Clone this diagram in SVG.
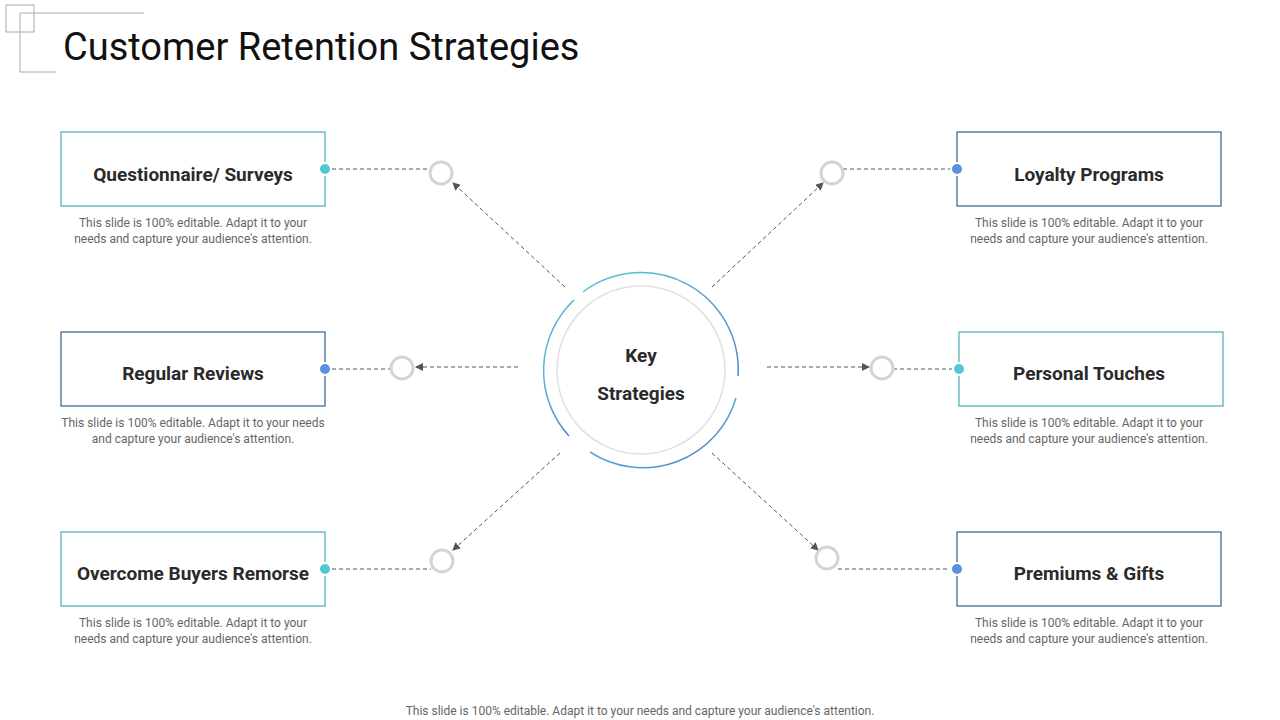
<svg xmlns="http://www.w3.org/2000/svg" width="1280" height="720" viewBox="0 0 1280 720">
<style>
.box{fill:#fff;stroke-width:1.2}
.t{stroke:#46aab3}.b{stroke:#2e5f8c}
.lbl{font-family:Roboto,"Liberation Sans",sans-serif;font-weight:bold;font-size:19px;fill:#2a2a2a;text-anchor:middle}
.d{font-family:Roboto,"Liberation Sans",sans-serif;font-size:12px;fill:#666;text-anchor:middle}
.dash{stroke:#555;stroke-width:1;stroke-dasharray:4 3;fill:none}
.ring{fill:#fff;stroke:#d4d4d4;stroke-width:3}
</style>
<defs>
<marker id="a" markerWidth="8" markerHeight="8" refX="7" refY="4" orient="auto" markerUnits="userSpaceOnUse"><path d="M0,0 L8,4 L0,8 z" fill="#555"/></marker>
<linearGradient id="g" x1="0" y1="0" x2="1" y2="1"><stop offset="0" stop-color="#5bc8d6"/><stop offset="1" stop-color="#4f7fd0"/></linearGradient>
</defs>
<rect width="1280" height="720" fill="#fff"/>
<g id="deco" fill="none" stroke="#aaa" stroke-width="1">
<rect x="6" y="5" width="28" height="27"/>
<path d="M20,13 H144 M20,13 V72 H56"/>
</g>
<text x="63" y="60" font-family="Roboto,'Liberation Sans',sans-serif" font-size="38" fill="#111">Customer Retention Strategies</text>
<g id="connectors">
<path class="dash" d="M290,169 H430"/><path class="dash" d="M290,369 H391"/><path class="dash" d="M318,569 H431"/>
<path class="dash" d="M843,169 H995"/><path class="dash" d="M893,369 H997"/><path class="dash" d="M838,569 H995"/>
<path class="dash" marker-end="url(#a)" d="M565,287 L453,183"/>
<path class="dash" marker-end="url(#a)" d="M518,367 L416,367"/>
<path class="dash" marker-end="url(#a)" d="M560,453 L453,550"/>
<path class="dash" marker-end="url(#a)" d="M712,287 L823,183"/>
<path class="dash" marker-end="url(#a)" d="M767,367 L869,367"/>
<path class="dash" marker-end="url(#a)" d="M712,453 L818,550"/>
</g>
<g id="center">
<circle cx="641" cy="370" r="84" fill="#fff" stroke="#e0e0e0" stroke-width="1.5"/>
<g fill="none" stroke="url(#g)" stroke-width="1.5">
<path d="M583,292 A97,97 0 0 1 738,376"/>
<path d="M736,398 A97,97 0 0 1 590,452"/>
<path d="M569,436 A97,97 0 0 1 574,300"/>
</g>
<text class="lbl" x="641" y="362" font-size="29">Key</text>
<text class="lbl" x="641" y="400" font-size="29">Strategies</text>
</g>
<g id="n1"><rect class="box t" x="61" y="132" width="264" height="74"/><text class="lbl" x="193" y="181">Questionnaire/ Surveys</text><circle cx="325" cy="169" r="6" fill="#4fc9d3" stroke="#fff" stroke-width="2"/><circle class="ring" cx="441" cy="173" r="11"/>
<text class="d" x="193" y="227">This slide is 100% editable. Adapt it to your</text><text class="d" x="193" y="243">needs and capture your audience's attention.</text></g>
<g id="n2"><rect class="box b" x="61" y="332" width="264" height="74"/><text class="lbl" x="193" y="380">Regular Reviews</text><circle cx="325" cy="369" r="6" fill="#5b8fe0" stroke="#fff" stroke-width="2"/><circle class="ring" cx="402" cy="368" r="11"/>
<text class="d" x="193" y="427">This slide is 100% editable. Adapt it to your needs</text><text class="d" x="193" y="443">and capture your audience's attention.</text></g>
<g id="n3"><rect class="box t" x="61" y="532" width="264" height="74"/><text class="lbl" x="193" y="580">Overcome Buyers Remorse</text><circle cx="325" cy="569" r="6" fill="#4fc9d3" stroke="#fff" stroke-width="2"/><circle class="ring" cx="442" cy="561" r="11"/>
<text class="d" x="193" y="627">This slide is 100% editable. Adapt it to your</text><text class="d" x="193" y="643">needs and capture your audience's attention.</text></g>
<g id="n4"><rect class="box b" x="957" y="132" width="264" height="74"/><text class="lbl" x="1089" y="181">Loyalty Programs</text><circle cx="957" cy="169" r="6" fill="#5b8fe0" stroke="#fff" stroke-width="2"/><circle class="ring" cx="832" cy="173" r="11"/>
<text class="d" x="1089" y="227">This slide is 100% editable. Adapt it to your</text><text class="d" x="1089" y="243">needs and capture your audience's attention.</text></g>
<g id="n5"><rect class="box t" x="959" y="332" width="264" height="74"/><text class="lbl" x="1089" y="380">Personal Touches</text><circle cx="959" cy="369" r="6" fill="#4fc9d3" stroke="#fff" stroke-width="2"/><circle class="ring" cx="882" cy="368" r="11"/>
<text class="d" x="1089" y="427">This slide is 100% editable. Adapt it to your</text><text class="d" x="1089" y="443">needs and capture your audience's attention.</text></g>
<g id="n6"><rect class="box b" x="957" y="532" width="264" height="74"/><text class="lbl" x="1089" y="580">Premiums &amp; Gifts</text><circle cx="957" cy="569" r="6" fill="#5b8fe0" stroke="#fff" stroke-width="2"/><circle class="ring" cx="827" cy="558" r="11"/>
<text class="d" x="1089" y="627">This slide is 100% editable. Adapt it to your</text><text class="d" x="1089" y="643">needs and capture your audience's attention.</text></g>
<text class="d" x="640" y="715" font-size="14">This slide is 100% editable. Adapt it to your needs and capture your audience's attention.</text>
</svg>
